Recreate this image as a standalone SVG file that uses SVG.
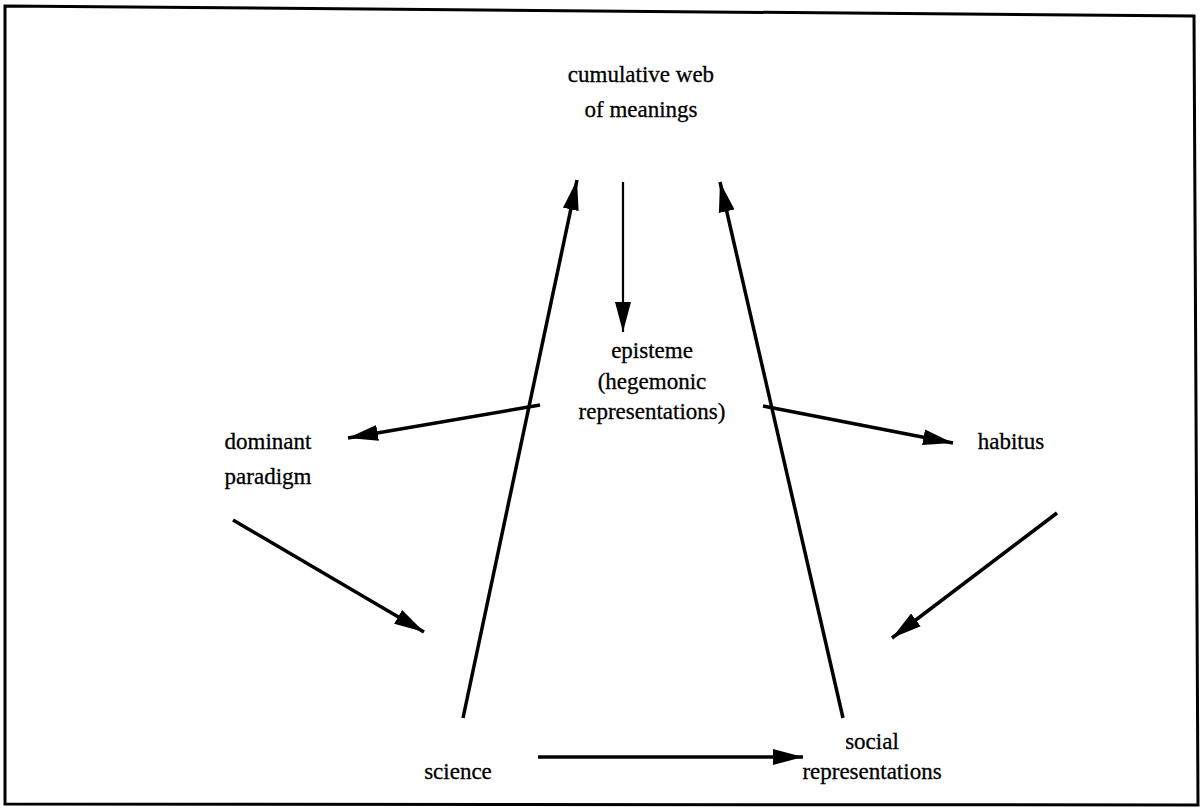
<svg xmlns="http://www.w3.org/2000/svg" width="1203" height="809" viewBox="0 0 1203 809">
<style>
text{font-family:"Liberation Serif","Times New Roman",serif;font-size:23px;fill:#000;stroke:#000;stroke-width:0.3;text-anchor:middle}
.c{stroke:#000;stroke-width:3.5;fill:none}
.t{stroke-width:2.2}
</style>
<defs>
<marker id="a" viewBox="0 0 30 18" refX="30" refY="9" markerWidth="30" markerHeight="18" markerUnits="userSpaceOnUse" orient="auto">
<path d="M0,1 L30,9 L0,17 Z" fill="#000"/>
</marker>
</defs>
<rect width="1203" height="809" fill="#fff"/>
<path d="M5,6 L1194,16 L1198,805 L5,804 Z" fill="none" stroke="#000" stroke-width="3"/>
<g id="connectors">
<line class="c t" x1="623" y1="182" x2="623" y2="332" marker-end="url(#a)"/>
<line class="c" x1="463" y1="718" x2="577" y2="180" marker-end="url(#a)"/>
<line class="c" x1="843" y1="718" x2="720" y2="182" marker-end="url(#a)"/>
<line class="c" x1="540" y1="405" x2="348" y2="438" marker-end="url(#a)"/>
<line class="c" x1="763" y1="406" x2="953" y2="443" marker-end="url(#a)"/>
<line class="c" x1="233" y1="520" x2="424" y2="632" marker-end="url(#a)"/>
<line class="c" x1="1057" y1="513" x2="892" y2="638" marker-end="url(#a)"/>
<line class="c" x1="538" y1="757" x2="803" y2="757" marker-end="url(#a)"/>
</g>
<g id="cumulative"><text x="641" y="82">cumulative web</text><text x="641" y="117">of meanings</text></g>
<g id="episteme"><text x="652" y="358">episteme</text><text x="652" y="389">(hegemonic</text><text x="652" y="419">representations)</text></g>
<g id="dominant"><text x="268" y="449">dominant</text><text x="268" y="484">paradigm</text></g>
<g id="habitus"><text x="1011" y="449">habitus</text></g>
<g id="science"><text x="458" y="779">science</text></g>
<g id="social"><text x="872" y="749">social</text><text x="872" y="779">representations</text></g>
</svg>
